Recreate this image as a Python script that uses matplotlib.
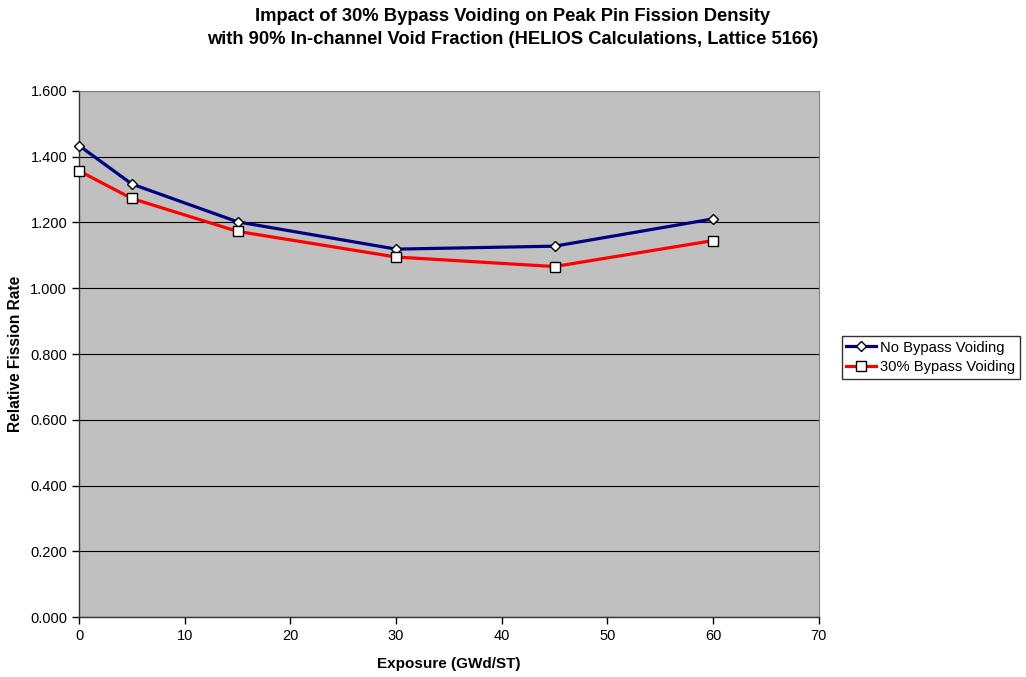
import matplotlib.pyplot as plt
import numpy as np

plt.rcParams['font.family'] = ['Liberation Sans', 'DejaVu Sans']

exposure = [0, 5, 15, 30, 45, 60]
no_bypass = [1.434, 1.317, 1.202, 1.119, 1.128, 1.211]
bypass_30 = [1.357, 1.273, 1.173, 1.095, 1.066, 1.145]

fig = plt.figure(figsize=(10.26, 6.77), dpi=100)
ax = fig.add_axes([0.077, 0.0886, 0.721, 0.777])
ax.set_facecolor('#C0C0C0')

ax.plot(exposure, no_bypass, color='#000080', lw=2.3, marker='D', ms=5,
        mfc='white', mec='black', mew=1, label='No Bypass Voiding',
        zorder=3, clip_on=False)
ax.plot(exposure, bypass_30, color='#FF0000', lw=2.3, marker='s', ms=7,
        mfc='white', mec='black', mew=1, label='30% Bypass Voiding',
        zorder=3, clip_on=False)

ax.set_xlim(0, 70)
ax.set_ylim(0, 1.6)
ax.set_xticks(np.arange(0, 71, 10))
ax.set_yticks(np.arange(0, 1.61, 0.2))
ax.set_yticklabels([f'{v:.3f}' for v in np.arange(0, 1.61, 0.2)])
ax.yaxis.grid(True, color='black', lw=0.8)
ax.set_axisbelow(True)
ax.tick_params(labelsize=10.5, direction='out', length=5, width=1)

for s in ['left', 'bottom']:
    ax.spines[s].set_color('#333333')
    ax.spines[s].set_linewidth(1)
for s in ['top', 'right']:
    ax.spines[s].set_color('#808080')
    ax.spines[s].set_linewidth(0.8)

ax.set_xlabel('Exposure (GWd/ST)', fontsize=11, fontweight='bold', labelpad=10)
ax.set_ylabel('Relative Fission Rate', fontsize=11.2, fontweight='bold', labelpad=5)

fig.suptitle('Impact of 30% Bypass Voiding on Peak Pin Fission Density\n'
             'with 90% In-channel Void Fraction (HELIOS Calculations, Lattice 5166)',
             x=0.5, y=0.988, fontsize=13.2, fontweight='bold', linespacing=1.45)

leg = fig.legend(loc='center left', bbox_to_anchor=(0.8207, 0.472), fontsize=10.6,
                 frameon=True, fancybox=False, handlelength=2.0, handletextpad=0.3,
                 borderpad=0.3, labelspacing=0.4, borderaxespad=0)
leg.get_frame().set_edgecolor('black')
leg.get_frame().set_linewidth(1)

plt.savefig('out.png', dpi=100)
